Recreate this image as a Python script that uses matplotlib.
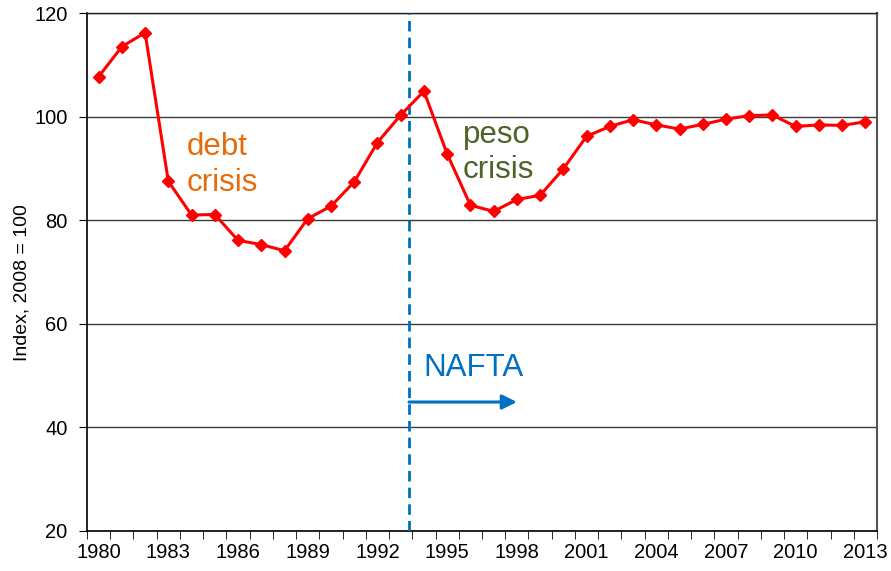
import matplotlib
matplotlib.use("Agg")
import matplotlib.pyplot as plt
import numpy as np

plt.rcParams['font.family'] = ['Liberation Sans', 'DejaVu Sans']

years = list(range(1980, 2014))
values = [107.7, 113.5, 116.2, 87.5, 81.0, 81.1, 76.1, 75.3, 74.1, 80.3,
          82.7, 87.4, 95.0, 100.3, 104.9, 92.8, 82.9, 81.7, 84.0, 84.8,
          89.9, 96.2, 98.1, 99.4, 98.4, 97.6, 98.5, 99.5, 100.2, 100.3,
          98.1, 98.4, 98.3, 99.0]
yticks = [20, 40, 60, 80, 100, 120]
label_years = years[::3]

fig = plt.figure(figsize=(8.91, 5.71), dpi=100)
ax = fig.add_axes([87/891, 1 - 531/571, 790/891, 518/571])

idx = np.arange(len(years))
ax.plot(idx, values, color='#FF0000', lw=2.2, marker='D', ms=6.5,
        markeredgecolor='#FF0000', zorder=5, clip_on=False)

ax.set_xlim(-0.5, len(years) - 0.5)
ax.set_ylim(20, 120)
ax.set_yticks(yticks)
ax.set_yticklabels([str(v) for v in yticks], fontsize=14.5)
ax.yaxis.grid(True, color='#3a3a3a', lw=1.0)
ax.set_axisbelow(True)

# category axis: ticks at boundaries, labels at every third category
ax.set_xticks(np.arange(-0.5, len(years)), minor=True)
ax.set_xticks([years.index(y) for y in label_years])
ax.set_xticklabels([str(y) for y in label_years], fontsize=14.5)
ax.tick_params(axis='x', which='major', length=0, pad=9)
ax.tick_params(axis='x', which='minor', length=6, color='black', direction='out')
ax.tick_params(axis='y', length=6, direction='out', pad=8)

ax.set_ylabel('Index, 2008 = 100', fontsize=14)
ax.yaxis.set_label_coords(-0.071, 0.479)

for s in ['left', 'bottom']:
    ax.spines[s].set_color('black')
    ax.spines[s].set_linewidth(1.2)
ax.spines['right'].set_color('#555555')
ax.spines['right'].set_linewidth(1.5)
ax.spines['top'].set_color('#222222')
ax.spines['top'].set_linewidth(1.0)

# NAFTA line
nafta_x = 13.36
ax.axvline(nafta_x, color='#0070C0', lw=2.0, ls=(0, (3.8, 2.2)), zorder=3)
ax.annotate('', xy=(18.0, 44.9), xytext=(nafta_x, 44.9),
            arrowprops=dict(arrowstyle='-|>', color='#0070C0', lw=2.2,
                            mutation_scale=22, shrinkA=0, shrinkB=0))
ax.text(13.96, 51.5, 'NAFTA', color='#0070C0', fontsize=22.5, va='center', ha='left')

ax.text(3.79, 97.0, 'debt\ncrisis', color='#E46C0A', fontsize=22.5,
        va='top', ha='left', linespacing=1.25)
ax.text(15.68, 99.4, 'peso\ncrisis', color='#4F6228', fontsize=22.5,
        va='top', ha='left', linespacing=1.25)

fig.savefig('out.png', dpi=100)
